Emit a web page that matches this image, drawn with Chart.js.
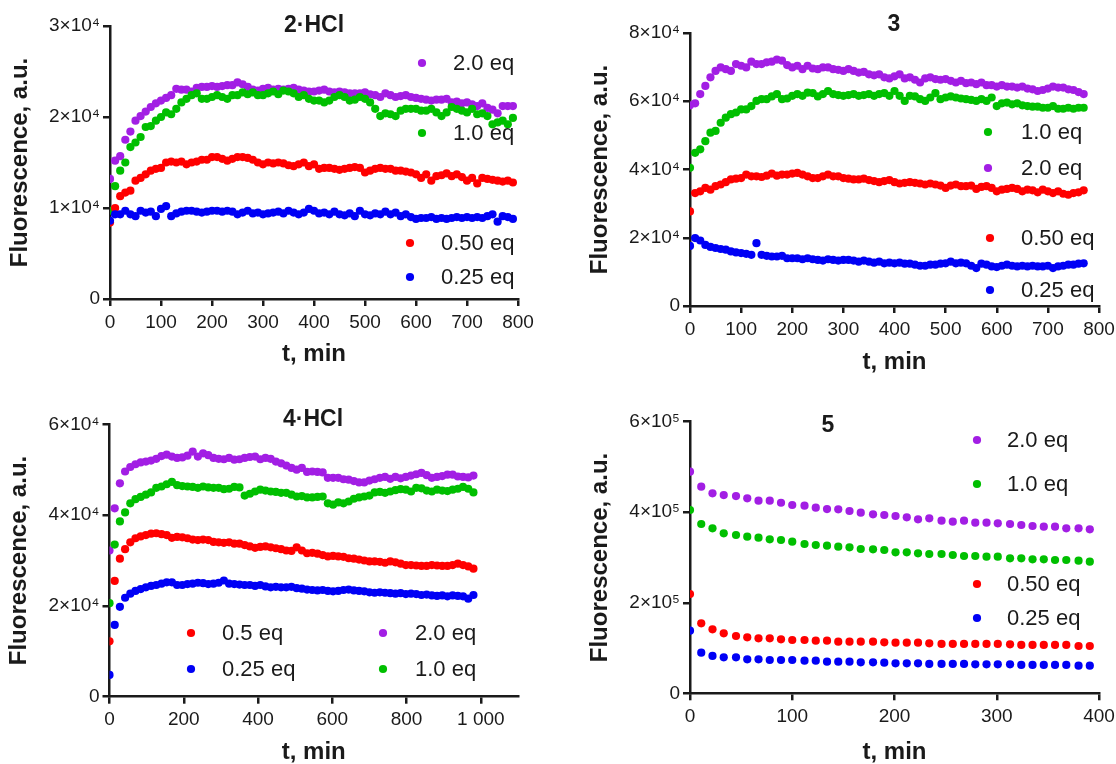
<!DOCTYPE html>
<html>
<head>
<meta charset="utf-8">
<title>Fluorescence kinetics</title>
<script src="https://cdn.jsdelivr.net/npm/chart.js@4.4.1/dist/chart.umd.min.js"></script>
<style>
  body { margin: 0; background: #fff; overflow: hidden; }
  #wrap { position: relative; width: 1116px; height: 764px; }
  canvas { position: absolute; }
</style>
</head>
<body>
<div id="wrap">
  <canvas id="cA" width="558" height="382" style="left:0;top:0"></canvas>
  <canvas id="cB" width="558" height="382" style="left:558px;top:0"></canvas>
  <canvas id="cC" width="558" height="390" style="left:0;top:382px"></canvas>
  <canvas id="cD" width="558" height="390" style="left:558px;top:382px"></canvas>
</div>
<script>
// --- DATA (fluorescence in thousands of a.u.) ---

// panel 2·HCl
const timeA = [0,10,20,30,40,50,60,70,80,90,100,110,120,130,140,150,160,170,180,190,
  200,210,220,230,240,250,260,270,280,290,300,310,320,330,340,350,360,370,380,390,
  400,410,420,430,440,450,460,470,480,490,500,510,520,530,540,550,560,570,580,590,
  600,610,620,630,640,650,660,670,680,690,700,710,720,730,740,750,760,770,780,790];
const purpleA = [13.2,15.2,15.7,17.5,18.4,19.6,20.1,20.6,21.1,21.5, 21.8,22.1,22.4,23.1,23.0,23.0,22.8,23.2,23.3,23.3,
  23.4,23.3,23.4,23.5,23.5,23.8,23.6,23.3,23.0,22.9, 23.1,23.2,23.0,23.1,23.0,23.1,23.2,23.0,22.9,22.8,
  22.8,22.9,23.0,22.8,22.7,22.8,22.7,22.6,22.6,22.6, 22.7,22.5,22.4,22.2,22.6,22.4,22.2,22.3,22.4,22.2,
  22.1,22.0,21.9,21.8,21.9,21.9,22.0,21.6,21.7,21.5, 21.6,21.4,21.2,21.5,21.0,20.8,20.4,21.2,21.2,21.2];
const greenA = [9.7,12.4,14.1,15.0,16.7,17.2,17.8,18.9,19.0,19.6, 20.0,20.5,20.3,20.9,21.6,22.0,22.4,22.6,22.0,22.0,
  22.2,22.4,22.2,22.0,22.4,22.4,22.7,22.5,22.7,22.4, 22.4,22.6,22.8,22.5,22.9,22.8,22.6,22.2,22.4,22.0,
  21.8,21.8,21.6,21.8,22.2,22.4,22.2,21.8,21.9,22.2, 22.0,21.6,20.9,20.1,20.4,20.3,20.1,20.7,20.9,20.9,
  20.9,20.7,20.7,20.9,20.5,20.1,20.5,21.1,20.9,20.7, 20.5,20.9,20.3,20.4,20.1,19.2,19.4,19.6,19.2,19.9];
const redA = [8.4,10.0,11.3,11.7,11.9,13.0,13.3,13.7,14.1,14.3, 14.4,15.0,15.1,15.0,15.1,14.8,15.0,15.1,15.3,15.3,
  15.6,15.6,15.4,15.2,15.4,15.6,15.6,15.5,15.3,15.0, 14.8,15.0,14.9,15.0,14.9,14.7,14.6,14.8,15.0,14.6,
  14.8,14.3,14.4,14.4,14.3,14.2,14.3,14.4,14.5,14.4, 13.9,14.1,14.3,14.4,14.3,14.3,14.1,14.1,14.0,13.9,
  13.7,13.3,13.7,13.0,13.5,13.6,13.8,13.5,13.7,13.4, 13.0,13.3,12.7,13.3,13.2,13.1,13.0,12.9,13.0,12.8];
const blueA = [8.6,9.3,9.3,9.7,9.3,9.1,9.7,9.5,9.6,9.1, 9.9,10.2,9.1,9.4,9.6,9.7,9.7,9.6,9.5,9.6,
  9.7,9.7,9.6,9.7,9.6,9.3,9.5,9.7,9.4,9.5, 9.3,9.4,9.5,9.6,9.4,9.7,9.5,9.3,9.5,9.9,
  9.7,9.4,9.5,9.3,9.6,9.3,9.2,9.4,9.1,9.7, 9.3,9.2,9.4,9.3,9.6,9.3,9.5,9.1,9.3,9.0,
  8.8,8.9,8.9,9.0,8.8,8.9,8.8,8.9,9.0,8.9, 9.0,8.9,9.0,8.9,9.1,9.3,8.5,9.1,9.0,8.8];

// panel 3
const timeB = [0,10,20,30,40,50,60,70,80,90,100,110,120,130,140,150,160,170,180,190,
  200,210,220,230,240,250,260,270,280,290,300,310,320,330,340,350,360,370,380,390,
  400,410,420,430,440,450,460,470,480,490,500,510,520,530,540,550,560,570,580,590,
  600,610,620,630,640,650,660,670,680,690,700,710,720,730,740,750,760,770];
const purpleB = [58.8,59.4,62.1,64.5,67.0,68.9,69.9,69.4,68.9,70.9, 70.4,69.9,71.6,70.9,70.9,71.4,71.6,72.2,71.9,70.6,
  69.9,70.4,69.4,70.4,69.6,69.4,69.9,69.9,69.4,69.2, 68.9,69.4,68.9,68.4,68.6,67.9,67.6,67.9,67.0,66.7,
  67.3,67.9,66.7,67.0,66.3,65.5,66.7,67.0,66.5,66.3, 66.5,66.0,65.5,66.0,65.3,65.5,65.0,65.5,64.7,64.7,
  64.3,64.7,64.3,64.3,64.0,64.3,63.7,63.5,63.0,63.3, 63.7,64.3,64.0,64.0,63.5,63.3,62.7,62.1];
const greenB = [40.5,44.9,45.9,48.3,50.8,51.3,53.7,55.2,56.2,56.7, 57.6,57.6,58.6,60.1,60.6,60.6,61.4,62.1,60.6,60.8,
  61.6,62.1,61.6,62.5,62.4,61.4,62.1,63.0,62.1,61.8, 61.6,61.8,62.1,61.6,61.8,62.1,61.6,62.1,62.4,61.6,
  63.0,61.6,60.1,61.6,61.4,60.6,60.1,61.1,62.4,60.6, 61.1,61.4,61.1,60.8,60.6,60.4,60.1,60.6,60.1,61.1,
  58.6,59.4,59.6,59.1,59.4,58.8,58.6,58.4,58.4,58.1, 58.1,58.6,57.8,57.8,58.1,57.8,58.1,58.1];
const redB = [27.7,33.1,33.6,34.6,34.1,35.1,35.6,36.3,37.1,37.3, 37.5,38.5,38.0,38.0,37.8,38.2,38.8,38.2,38.5,38.5,
  38.8,39.0,38.5,38.0,37.5,37.5,38.0,38.5,38.0,38.0, 37.5,37.3,37.1,37.1,37.3,36.9,36.6,36.3,36.6,36.9,
  36.3,35.9,36.1,36.3,36.1,35.9,35.6,35.9,35.6,35.3, 34.6,35.3,35.6,35.1,35.1,35.3,34.3,34.9,35.1,34.6,
  33.6,34.1,34.3,34.6,34.3,33.6,34.1,33.9,33.3,34.1, 33.6,33.1,33.6,32.9,32.6,33.1,33.3,33.9];
const blueB = [17.6,19.9,19.2,17.9,17.3,17.0,16.7,16.5,16.0,15.7, 15.5,15.3,15.0,18.4,15.0,14.7,14.5,14.5,14.7,14.0,
  14.0,14.0,13.7,14.0,13.7,13.5,13.3,13.7,13.5,13.3, 13.5,13.5,13.3,13.0,13.3,13.0,12.7,13.0,12.5,12.7,
  12.5,12.7,12.4,12.4,12.1,11.8,11.8,12.1,12.1,12.4, 12.5,13.0,12.5,12.7,12.5,11.8,11.1,12.4,12.1,11.6,
  11.4,11.8,12.1,11.8,11.6,11.8,11.6,11.8,11.6,11.6, 11.8,11.1,11.6,11.8,12.1,12.1,12.4,12.5];

// panel 4·HCl
const timeC = [0,14,28,42,56,70,84,98,112,126,140,154,168,182,196,210,224,238,252,266,
  280,294,308,322,336,350,364,378,392,406,420,434,448,462,476,490,504,518,532,546,
  560,574,588,602,616,630,644,658,672,686,700,714,728,742,756,770,784,798,812,826,
  840,854,868,882,896,910,924,938,952,966,980];
const purpleC = [32.2,41.5,47.0,49.6,50.6,51.2,51.6,51.8,52.0,52.4, 53.0,53.3,52.9,52.6,52.7,53.1,54.0,52.9,53.6,53.2,
  52.6,52.4,52.3,52.6,52.2,52.3,52.6,52.8,52.9,52.3, 52.6,52.4,51.8,51.4,50.9,50.4,50.0,50.4,49.5,49.6,
  49.5,49.4,48.2,48.2,48.2,47.9,47.8,47.5,47.2,47.2, 47.6,47.9,48.2,48.4,48.0,48.4,48.1,48.4,48.7,49.0,
  49.3,48.8,48.2,48.4,48.6,48.9,48.9,48.5,48.4,48.3, 48.7];
const greenC = [20.6,33.5,38.6,40.6,42.6,43.5,44.0,44.5,45.0,46.0, 46.3,46.8,47.3,46.6,46.4,46.3,46.2,46.0,46.3,46.1,
  46.0,46.0,45.7,45.8,46.2,46.1,44.3,44.7,45.2,45.6, 45.4,45.2,45.1,44.9,44.9,44.5,44.1,44.2,43.9,43.9,
  44.0,44.1,42.6,42.3,42.8,42.6,43.0,43.6,43.9,44.1, 44.3,45.0,45.1,44.9,45.2,45.5,45.7,45.6,45.2,46.0,
  45.9,45.4,45.2,45.6,45.4,45.3,45.6,45.8,46.2,45.8, 45.0];
const redC = [12.2,25.5,30.4,32.5,34.0,34.9,35.3,35.6,35.9,36.0, 35.8,35.6,35.0,35.2,35.1,34.9,34.6,34.5,34.6,34.5,
  34.1,34.0,33.9,34.0,33.7,33.7,33.4,33.1,32.8,33.0, 33.1,32.9,32.7,32.5,32.2,32.1,32.9,32.2,31.6,31.7,
  31.5,31.2,30.9,31.0,30.9,30.8,30.5,30.4,30.2,30.0, 29.8,29.8,29.7,29.5,29.8,29.6,29.3,29.0,29.0,28.9,
  28.8,28.8,29.0,28.9,28.8,28.8,29.0,29.3,29.0,28.7, 28.2];
const blueC = [4.8,15.8,19.8,21.8,22.7,23.3,23.7,24.1,24.4,24.6, 24.9,25.2,25.2,24.6,24.6,24.8,24.9,25.1,25.0,24.8,
  24.9,25.1,25.6,24.9,24.8,24.7,24.6,24.6,24.4,24.6, 24.3,24.1,24.2,24.1,24.1,24.2,23.9,23.8,23.6,23.5,
  23.4,23.5,23.3,23.2,23.3,23.5,23.6,23.4,23.3,23.2, 23.0,22.9,23.0,22.9,22.8,22.7,22.8,22.6,22.7,22.6,
  22.4,22.5,22.3,22.2,22.3,22.1,22.3,22.2,22.1,21.6, 22.4];

// panel 5
const timeD = [0,11,22,33,45,56,67,78,89,100,112,123,134,145,156,167,179,190,201,212,
  223,234,246,257,268,279,290,301,313,324,335,346,357,368,380,391];
const purpleD = [489.6,456.5,441.7,438.0,435.8,430.7,425.5,425.5,421.0,416.0, 414.5,410.0,407.0,406.4,402.7,399.0,395.3,393.9,391.7,388.7,
  384.3,386.5,381.4,379.1,381.4,376.9,376.9,375.5,374.0,371.8, 369.6,368.1,368.1,364.4,364.4,362.2];
const greenD = [404.9,374.0,364.4,353.4,349.7,346.0,343.8,340.1,338.7,335.0, 329.8,327.6,326.1,323.9,322.5,318.8,318.0,316.6,311.4,311.4,
  309.2,307.7,307.7,305.5,303.3,303.3,301.8,301.8,298.2,298.2, 296.0,296.0,294.5,294.5,293.0,290.8];
const redD = [219.4,154.6,141.4,132.5,126.6,123.7,121.5,121.5,119.3,117.8, 117.8,116.3,116.3,114.1,114.1,114.1,114.1,112.6,111.9,111.9,
  111.9,110.4,109.0,109.0,109.0,109.0,109.0,109.0,108.3,106.8, 106.8,106.8,106.8,106.8,104.5,104.5];
const blueD = [138.4,89.8,82.5,79.5,79.5,75.1,75.1,73.6,73.6,73.6, 72.1,72.1,69.9,69.9,69.9,68.5,68.5,67.7,66.3,66.3,
  66.3,64.8,64.8,64.8,64.8,64.0,64.0,64.0,64.0,62.6, 62.6,62.6,62.6,62.6,61.1,61.1];

// ticks
const xTicks800 = [0,100,200,300,400,500,600,700,800];
const xLabels800 = ['0','100','200','300','400','500','600','700','800'];
const xTicksC = [0,200,400,600,800,1000];
const xLabelsC = ['0','200','400','600','800','1 000'];
const xTicksD = [0,100,200,300,400];
const xLabelsD = ['0','100','200','300','400'];
const yTicksA = [0,10,20,30];
const yLabelsA = ['0','1×10⁴','2×10⁴','3×10⁴'];
const yTicksB = [0,20,40,60,80];
const yLabelsB = ['0','2×10⁴','4×10⁴','6×10⁴','8×10⁴'];
const yTicksC = [0,20,40,60];
const yLabelsC = ['0','2×10⁴','4×10⁴','6×10⁴'];
const yTicksD = [0,200,400,600];
const yLabelsD = ['0','2×10⁵','4×10⁵','6×10⁵'];

// --- STYLE ---
const FONT = "'Liberation Sans', Arial, 'DejaVu Sans', sans-serif";
const INK = '#1a1a1a';
const PURPLE = '#a21ee4', GREEN = '#00bf00', RED = '#ff0000', BLUE = '#0000f5';
const POINT_R = 4.1;

Chart.defaults.font.family = FONT;
Chart.defaults.color = INK;

// title + legend drawn inside the plot, at fixed spots
const panelText = {
  id: 'panelText',
  afterDraw(chart, args, opts) {
    const ctx = chart.ctx;
    ctx.save();
    ctx.fillStyle = INK;
    ctx.font = 'bold 23px ' + FONT;
    ctx.textAlign = 'center';
    ctx.textBaseline = 'middle';
    ctx.fillText(opts.title, opts.titleX, opts.titleY);
    ctx.font = '22px ' + FONT;
    ctx.textAlign = 'left';
    opts.items.forEach(it => {
      const ds = chart.data.datasets[it.ds];
      ctx.fillStyle = ds.backgroundColor;
      ctx.beginPath();
      ctx.arc(it.mx, it.my, POINT_R, 0, Math.PI * 2);
      ctx.fill();
      ctx.fillStyle = INK;
      ctx.fillText(ds.label, it.tx, it.my + 1);
    });
    ctx.restore();
  }
};

const grid = { display: true, drawOnChartArea: false, drawTicks: true, tickLength: 7, tickWidth: 2.5, tickColor: INK, lineWidth: 2.5, color: INK };
const border = { display: true, color: INK, width: 2.5 };

function makePanel(id, p) {
  const el = document.getElementById(id);
  const yW = 102;
  const xH = p.xTitleOff + 12;
  return new Chart(el, {
    type: 'scatter',
    data: {
      // blue first so it is drawn on top
      datasets: [
        { label: '0.25 eq', values: p.blue, color: BLUE },
        { label: p.redLabel, values: p.red, color: RED },
        { label: '1.0 eq', values: p.green, color: GREEN },
        { label: '2.0 eq', values: p.purple, color: PURPLE }
      ].map(s => ({
        label: s.label,
        data: p.time.map((t, i) => ({ x: t, y: s.values[i] })),
        backgroundColor: s.color,
        borderWidth: 0,
        pointRadius: POINT_R,
        pointHoverRadius: POINT_R
      }))
    },
    options: {
      responsive: false,
      animation: false,
      events: [],
      layout: {
        padding: {
          left: p.area.left - yW,
          top: p.area.top,
          right: el.width - p.area.right,
          bottom: el.height - p.area.bottom - xH
        }
      },
      plugins: {
        legend: { display: false },
        tooltip: { enabled: false },
        panelText: { title: p.title, titleX: p.titleX, titleY: p.titleY, items: p.legend }
      },
      scales: {
        x: {
          type: 'linear',
          min: 0,
          max: p.xMax,
          afterBuildTicks: s => { s.ticks = p.xTicks.map(v => ({ value: v })); },
          afterFit: s => { s.height = xH; s.paddingLeft = 0; s.paddingRight = 0; },
          ticks: { autoSkip: false, maxRotation: 0, padding: 5, font: { size: 19 }, color: INK,
            callback: v => p.xLabels[p.xTicks.indexOf(v)] },
          grid: grid,
          border: border,
          title: { display: true, text: 't, min', color: INK, padding: 0,
            font: { size: 24, weight: 'bold', lineHeight: 1 } }
        },
        y: {
          type: 'linear',
          min: 0,
          max: p.yMax,
          afterBuildTicks: s => { s.ticks = p.yTicks.map(v => ({ value: v })); },
          afterFit: s => { s.width = yW; s.paddingTop = 0; s.paddingBottom = 0; },
          ticks: { padding: 3, font: { size: 19 }, color: INK,
            callback: v => p.yLabels[p.yTicks.indexOf(v)] },
          grid: grid,
          border: border,
          title: { display: true, text: 'Fluorescence, a.u.', color: INK, padding: 0,
            font: { size: 24, weight: 'bold', lineHeight: 1 } }
        }
      }
    },
    plugins: [panelText]
  });
}

makePanel('cA', {
  time: timeA, purple: purpleA, green: greenA, red: redA, blue: blueA, redLabel: '0.50 eq',
  xMax: 800, xTicks: xTicks800, xLabels: xLabels800,
  yMax: 30, yTicks: yTicksA, yLabels: yLabelsA,
  area: { left: 110, top: 26, right: 518, bottom: 299 }, xTitleOff: 55,
  title: '2·HCl', titleX: 314, titleY: 26,
  legend: [
    { ds: 3, mx: 422, my: 63, tx: 453 },
    { ds: 2, mx: 422, my: 133, tx: 453 },
    { ds: 1, mx: 410, my: 243, tx: 441 },
    { ds: 0, mx: 410, my: 277, tx: 441 }
  ]
});

makePanel('cB', {
  time: timeB, purple: purpleB, green: greenB, red: redB, blue: blueB, redLabel: '0.50 eq',
  xMax: 800, xTicks: xTicks800, xLabels: xLabels800,
  yMax: 80, yTicks: yTicksB, yLabels: yLabelsB,
  area: { left: 132, top: 33, right: 541, bottom: 306 }, xTitleOff: 56,
  title: '3', titleX: 336, titleY: 25,
  legend: [
    { ds: 2, mx: 430, my: 132, tx: 463 },
    { ds: 3, mx: 430, my: 168, tx: 463 },
    { ds: 1, mx: 432, my: 238, tx: 463 },
    { ds: 0, mx: 432, my: 290, tx: 463 }
  ]
});

makePanel('cC', {
  time: timeC, purple: purpleC, green: greenC, red: redC, blue: blueC, redLabel: '0.5 eq',
  xMax: 1100, xTicks: xTicksC, xLabels: xLabelsC,
  yMax: 60, yTicks: yTicksC, yLabels: yLabelsC,
  area: { left: 109.5, top: 42.3, right: 518, bottom: 314.7 }, xTitleOff: 56,
  title: '4·HCl', titleX: 313, titleY: 38,
  legend: [
    { ds: 1, mx: 191, my: 251, tx: 222 },
    { ds: 0, mx: 191, my: 287, tx: 222 },
    { ds: 3, mx: 383, my: 251, tx: 415 },
    { ds: 2, mx: 383, my: 287, tx: 415 }
  ]
});

makePanel('cD', {
  time: timeD, purple: purpleD, green: greenD, red: redD, blue: blueD, redLabel: '0.50 eq',
  xMax: 400, xTicks: xTicksD, xLabels: xLabelsD,
  yMax: 600, yTicks: yTicksD, yLabels: yLabelsD,
  area: { left: 132, top: 39.7, right: 541, bottom: 311.3 }, xTitleOff: 59,
  title: '5', titleX: 270, titleY: 44,
  legend: [
    { ds: 3, mx: 419, my: 58, tx: 449 },
    { ds: 2, mx: 419, my: 102, tx: 449 },
    { ds: 1, mx: 419, my: 202, tx: 449 },
    { ds: 0, mx: 419, my: 236, tx: 449 }
  ]
});
</script>
</body>
</html>
